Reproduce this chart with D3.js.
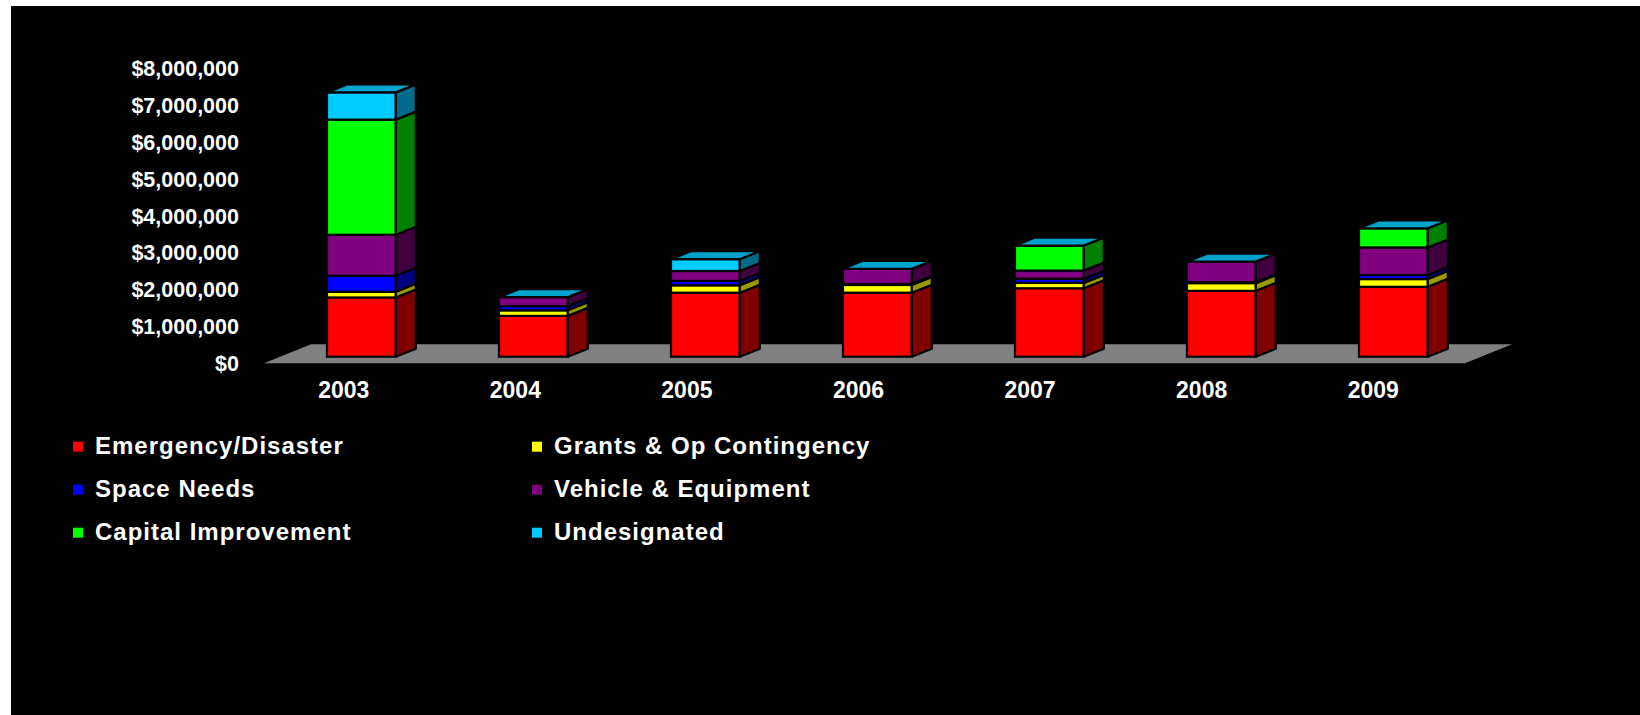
<!DOCTYPE html>
<html>
<head>
<meta charset="utf-8">
<script src="https://cdnjs.cloudflare.com/ajax/libs/d3/7.8.5/d3.min.js"></script>
<style>
  html, body { margin: 0; padding: 0; background: #fff; }
  svg { display: block; }
  text { font-family: "Liberation Sans", Arial, sans-serif; font-weight: bold; fill: #fff; }
</style>
</head>
<body>
<script>
var width = 1640;
var height = 715;

// data
var years = ["2003", "2004", "2005", "2006", "2007", "2008", "2009"];
var seriesNames = ["Emergency/Disaster", "Grants & Op Contingency", "Space Needs",
                   "Vehicle & Equipment", "Capital Improvement", "Undesignated"];
var emergency    = [1610000, 1110000, 1740000, 1740000, 1860000, 1790000, 1900000];
var grants       = [155000, 150000, 200000, 210000, 145000, 210000, 210000];
var spaceNeeds   = [435000, 115000, 120000, 30000, 115000, 25000, 110000];
var vehicle      = [1115000, 245000, 270000, 410000, 220000, 560000, 750000];
var capital      = [3130000, 0, 0, 0, 680000, 0, 520000];
var undesignated = [740000, 0, 320000, 0, 0, 0, 0];
var yTicks = [0, 1000000, 2000000, 3000000, 4000000, 5000000, 6000000, 7000000, 8000000];

var frontColors = ["#ff0000", "#ffff00", "#0000ff", "#800080", "#00ff00", "#00ccff"];
var sideColors  = ["#800000", "#999900", "#000080", "#400040", "#008000", "#006a8a"];
var topColor = "#00a3cc";

var seriesValues = [emergency, grants, spaceNeeds, vehicle, capital, undesignated];
var rows = years.map(function(y, i) {
    var r = { year: y };
    seriesNames.forEach(function(s, j) { r[s] = seriesValues[j][i]; });
    return r;
});
var stacked = d3.stack().keys(seriesNames)(rows);

var svg = d3.select("body").append("svg")
    .attr("width", width)
    .attr("height", height);

// black plot background
svg.append("rect")
    .attr("x", 11).attr("y", 6)
    .attr("width", width - 11).attr("height", height - 6)
    .attr("fill", "#000");

// floor plane (front edge) and bar plane
var xFloor = d3.scaleBand().domain(years).range([264, 1465]);
var floorY = 363.3;
var floorDx = 47, floorDy = -19;

var xBar = d3.scaleBand().domain(years).range([275.4, 1479.4])
    .paddingInner(0.6).paddingOuter(0.3);
var yBar = d3.scaleLinear().domain([0, 8000000]).range([356.7, 62.4]);
var yAxisScale = d3.scaleLinear().domain([0, 8000000]).range([floorY, 69]);
var depthDx = 20, depthDy = -8;

var fr = xFloor.range();
svg.append("polygon")
    .attr("points", [
        [fr[0], floorY], [fr[1], floorY],
        [fr[1] + floorDx, floorY + floorDy], [fr[0] + floorDx, floorY + floorDy]
    ].map(function(p) { return p.join(","); }).join(" "))
    .attr("fill", "#808080");

// bars
var layers = svg.selectAll("g.layer")
    .data(stacked)
    .enter().append("g")
        .attr("class", "layer");

layers.each(function(layer, j) {
    var g = d3.select(this);
    layer.forEach(function(d, i) {
        var x0 = xBar(years[i]);
        var x1 = x0 + xBar.bandwidth();
        var yT = yBar(d[1]);
        var yB = yBar(d[0]);
        g.append("rect")
            .attr("x", x0).attr("y", yT)
            .attr("width", x1 - x0).attr("height", yB - yT)
            .attr("fill", frontColors[j])
            .attr("stroke", "#000").attr("stroke-width", 2.2);
        g.append("polygon")
            .attr("points", [[x1, yT], [x1 + depthDx, yT + depthDy],
                             [x1 + depthDx, yB + depthDy], [x1, yB]]
                .map(function(p) { return p.join(","); }).join(" "))
            .attr("fill", sideColors[j])
            .attr("stroke", "#000").attr("stroke-width", 2.2)
            .attr("stroke-linejoin", "round");
        if (j === stacked.length - 1) {
            g.append("polygon")
                .attr("points", [[x0, yT], [x1, yT], [x1 + depthDx, yT + depthDy],
                                 [x0 + depthDx, yT + depthDy]]
                    .map(function(p) { return p.join(","); }).join(" "))
                .attr("fill", topColor)
                .attr("stroke", "#000").attr("stroke-width", 2.2)
                .attr("stroke-linejoin", "round");
        }
    });
});

// y axis labels
var yAxis = d3.axisLeft(yAxisScale)
    .tickValues(yTicks)
    .tickSize(0)
    .tickPadding(8)
    .tickFormat(function(d) { return "$" + d3.format(",")(d); });
var yg = svg.append("g")
    .attr("transform", "translate(247,0)")
    .call(yAxis);
yg.select(".domain").remove();
yg.selectAll("text")
    .attr("fill", "#fff")
    .style("font-size", "21.5px")
    .style("font-family", "'Liberation Sans', Arial, sans-serif")
    .style("font-weight", "bold");

// x axis labels
svg.selectAll("text.year")
    .data(years)
    .enter().append("text")
        .attr("class", "year")
        .attr("x", function(d) { return xFloor(d) + xFloor.bandwidth() / 2 - 6; })
        .attr("y", 398)
        .attr("text-anchor", "middle")
        .style("font-size", "23px")
        .text(function(d) { return d; });

// legend
var legend = svg.selectAll("g.legend")
    .data(seriesNames)
    .enter().append("g")
        .attr("class", "legend")
        .attr("transform", function(d, i) {
            return "translate(" + (i % 2 === 0 ? 73 : 532) + "," + (446.7 + Math.floor(i / 2) * 43) + ")";
        });
legend.append("rect")
    .attr("x", 0).attr("y", -5)
    .attr("width", 10).attr("height", 10)
    .attr("fill", function(d, i) { return frontColors[i]; });
legend.append("text")
    .attr("x", 22).attr("y", 7)
    .style("font-size", "24px")
    .style("letter-spacing", "1px")
    .text(function(d) { return d; });
</script>
</body>
</html>
